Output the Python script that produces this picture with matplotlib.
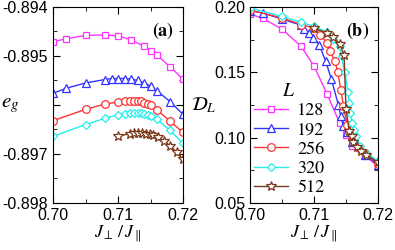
import matplotlib
matplotlib.use("Agg")
import matplotlib.pyplot as plt
from matplotlib.ticker import MultipleLocator, FixedLocator, FixedFormatter

plt.rcParams["mathtext.fontset"] = "stix"
plt.rcParams["font.family"] = ["Liberation Sans", "DejaVu Sans"]

# panel (a): ground-state energy per site
a128_J = [0.700, 0.702, 0.705, 0.708, 0.710, 0.712, 0.714, 0.715, 0.716, 0.718, 0.720]
a128_e = [-0.89471, -0.89465, -0.89458, -0.89457, -0.89459, -0.89467, -0.89480,
          -0.89489, -0.89498, -0.89522, -0.89547]

a192_J = [0.700, 0.702, 0.705, 0.708, 0.709, 0.710, 0.711, 0.712, 0.713, 0.714,
          0.715, 0.716, 0.718, 0.720]
a192_e = [-0.89576, -0.89566, -0.89555, -0.89548, -0.89546, -0.89546, -0.89546,
          -0.89547, -0.89550, -0.89555, -0.89561, -0.89571, -0.89593, -0.89619]

a256_J = [0.700, 0.705, 0.708, 0.710, 0.711, 0.7118, 0.7124, 0.713, 0.7135, 0.714,
          0.7146, 0.7151, 0.716, 0.718, 0.720]
a256_e = [-0.89632, -0.89609, -0.89598, -0.89594, -0.89592, -0.89591, -0.89591,
          -0.89592, -0.89592, -0.89595, -0.89598, -0.89601, -0.89610, -0.89633, -0.89656]

a320_J = a256_J
a320_e = [-0.89664, -0.89640, -0.89627, -0.89620, -0.89618, -0.89617, -0.89616,
          -0.89616, -0.89617, -0.89618, -0.89620, -0.89622, -0.89629, -0.89652, -0.89678]

a512_J = [0.710, 0.7118, 0.7125, 0.7131, 0.7137, 0.7143, 0.7149, 0.7154, 0.7161,
          0.717, 0.718, 0.719, 0.720]
a512_e = [-0.89663, -0.89659, -0.89658, -0.89658, -0.89658, -0.89659, -0.89660,
          -0.89662, -0.89666, -0.89673, -0.89683, -0.89696, -0.89711]

# panel (b): D_L
b128_J = [0.700, 0.702, 0.705, 0.708, 0.710, 0.712, 0.714, 0.715, 0.716, 0.718, 0.720]
b128_D = [0.1946, 0.1913, 0.1831, 0.1698, 0.1548, 0.1338, 0.1113, 0.102, 0.094, 0.086, 0.078]

b192_J = [0.700, 0.702, 0.705, 0.708, 0.7085, 0.7092, 0.7099, 0.7108, 0.7118, 0.7127,
          0.7138, 0.7142, 0.7146, 0.7152, 0.716, 0.718, 0.720]
b192_D = [0.1972, 0.1954, 0.1908, 0.1860, 0.1832, 0.1801, 0.1763, 0.1712, 0.1589, 0.1450,
          0.1252, 0.1163, 0.1086, 0.1040, 0.097, 0.087, 0.079]

b256_J = [0.700, 0.705, 0.708, 0.710, 0.711, 0.712, 0.7125, 0.7133, 0.7137, 0.7142,
          0.7146, 0.7152, 0.716, 0.717, 0.718, 0.720]
b256_D = [0.1976, 0.1916, 0.1865, 0.1840, 0.1788, 0.1725, 0.1661, 0.1584, 0.1500, 0.1367,
          0.1240, 0.110, 0.100, 0.092, 0.088, 0.080]

b320_J = [0.700, 0.705, 0.708, 0.710, 0.712, 0.713, 0.714, 0.7143, 0.7148, 0.7153,
          0.7155, 0.7157, 0.7159, 0.7163, 0.7166, 0.7172, 0.7183, 0.720]
b320_D = [0.1992, 0.1928, 0.1882, 0.1852, 0.181, 0.1755, 0.1699, 0.1622, 0.150, 0.135,
          0.1265, 0.1189, 0.1112, 0.1061, 0.101, 0.0933, 0.0878, 0.0819]

b512_J = [0.710, 0.712, 0.713, 0.714, 0.7147, 0.715, 0.7155, 0.7159, 0.7161, 0.7167,
          0.7173, 0.7182, 0.720]
b512_D = [0.184, 0.180, 0.177, 0.172, 0.163, 0.122, 0.105, 0.101, 0.097, 0.093,
          0.090, 0.087, 0.081]

sizes = ["128", "192", "256", "320", "512"]
colors = ["#ff33ff", "#3333ff", "#ff3333", "#22eeee", "#7a3a1a"]
markers = ["s", "^", "o", "D", "*"]
msizes = [5, 6, 5.5, 4.5, 7.5]

fig = plt.figure(figsize=(3.95, 2.5), dpi=100)
ax_a = fig.add_axes([53 / 395, 47 / 250, 130 / 395, 196 / 250])
ax_b = fig.add_axes([250 / 395, 47 / 250, 128 / 395, 196 / 250])

a_data = [(a128_J, a128_e), (a192_J, a192_e), (a256_J, a256_e), (a320_J, a320_e), (a512_J, a512_e)]
b_data = [(b128_J, b128_D), (b192_J, b192_D), (b256_J, b256_D), (b320_J, b320_D), (b512_J, b512_D)]

for i in range(5):
    ax_a.plot(a_data[i][0], a_data[i][1], color=colors[i], marker=markers[i], ms=msizes[i],
              mfc="white", mec=colors[i], lw=1, mew=0.9)
    ax_b.plot(b_data[i][0], b_data[i][1], color=colors[i], marker=markers[i], ms=msizes[i],
              mfc="white", mec=colors[i], lw=1, mew=0.9, label=sizes[i])

for ax in (ax_a, ax_b):
    ax.set_xlim(0.70, 0.72)
    ax.xaxis.set_major_locator(MultipleLocator(0.01))
    ax.xaxis.set_minor_locator(MultipleLocator(0.005))
    ax.xaxis.set_major_formatter(plt.FuncFormatter(lambda v, p: f"{v:.2f}"))
    ax.tick_params(which="both", direction="in", top=True, right=True, labelsize=11.5)
    ax.tick_params(which="major", length=5)
    ax.tick_params(which="minor", length=3)
    ax.set_xlabel(r"$J_{\perp}\,/\,J_{\parallel}$", fontsize=13, labelpad=1)

ax_a.set_ylim(-0.898, -0.894)
ax_a.yaxis.set_major_locator(FixedLocator([-0.898, -0.897, -0.896, -0.895, -0.894]))
ax_a.yaxis.set_major_formatter(FixedFormatter(["-0.898", "-0.897", "", "-0.895", "-0.894"]))
ax_a.yaxis.set_minor_locator(MultipleLocator(0.0005))
ax_a.set_ylabel(r"$e_g$", fontsize=15, rotation=0, va="center", ha="center")
ax_a.yaxis.set_label_coords(-0.33, 0.5)
ax_a.text(0.93, 0.93, r"$\mathbf{(a)}$", transform=ax_a.transAxes, ha="right", va="top", fontsize=13)

ax_b.set_ylim(0.05, 0.20)
ax_b.yaxis.set_major_locator(MultipleLocator(0.05))
ax_b.yaxis.set_minor_locator(MultipleLocator(0.025))
ax_b.yaxis.set_major_formatter(plt.FuncFormatter(lambda v, p: f"{v:.2f}"))
ax_b.set_ylabel(r"$\mathcal{D}_L$", fontsize=14, rotation=0, va="center", ha="center")
ax_b.yaxis.set_label_coords(-0.36, 0.5)
ax_b.text(0.93, 0.93, r"$\mathbf{(b)}$", transform=ax_b.transAxes, ha="right", va="top", fontsize=13)

leg = ax_b.legend(loc="lower left", bbox_to_anchor=(-0.07, -0.03), frameon=False,
                  title=r"$L$", handlelength=1.9, handletextpad=0.5, labelspacing=0.15,
                  borderaxespad=0.3, prop={"family": "STIXGeneral", "size": 13})
leg.get_title().set_fontsize(14)

fig.savefig("out.png", dpi=100)
